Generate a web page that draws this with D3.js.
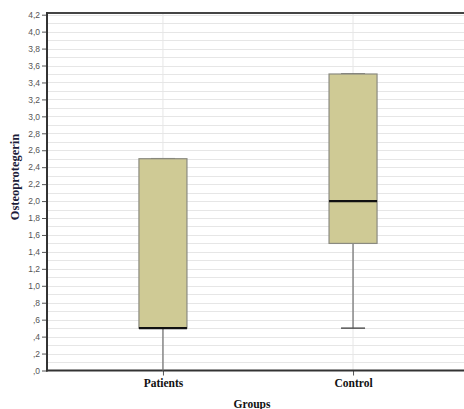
<!DOCTYPE html>
<html><head><meta charset="utf-8">
<script src="https://cdn.jsdelivr.net/npm/d3@7"></script>
<style>body{margin:0;background:#fff}svg{display:block}</style>
</head><body>
<svg id="c" width="464" height="409"></svg>
<script>
const categories = ["Patients", "Control"];
const whiskerLow = [0.0, 0.5];
const q1 = [0.5, 1.5];
const median = [0.5, 2.0];
const q3 = [2.5, 3.5];
const whiskerHigh = [2.5, 3.5];
const yTicks = [0,0.2,0.4,0.6,0.8,1.0,1.2,1.4,1.6,1.8,2.0,2.2,2.4,2.6,2.8,3.0,3.2,3.4,3.6,3.8,4.0,4.2];
const yTitle = "Osteoprotegerin";
const xTitle = "Groups";

(function () {
const svg = d3.select("#c");
const pL = 47, pR = 469, pT = 13, pB = 370.5;
const y = d3.scaleLinear().domain([0, 4.22]).range([pB, pT]);
const x = d3.scalePoint().domain(categories).range([pL, pR]).padding(0.61);
const boxW = 48;

const grid = d3.range(1, 43).map(i => i / 10);
svg.append("g").selectAll("line").data(grid).join("line")
  .attr("x1", pL).attr("x2", pR)
  .attr("y1", d => Math.round(y(d)) + 0.5).attr("y2", d => Math.round(y(d)) + 0.5)
  .attr("stroke", "#e6e6e6").attr("stroke-width", 1.2);
svg.append("g").selectAll("line").data(categories).join("line")
  .attr("x1", d => x(d)).attr("x2", d => x(d))
  .attr("y1", pT).attr("y2", pB)
  .attr("stroke", "#e6e6e6").attr("stroke-width", 1);

svg.append("line").attr("x1", pL).attr("x2", pR).attr("y1", pT).attr("y2", pT)
  .attr("stroke", "#444").attr("stroke-width", 2);

const fmt = v => { let s = d3.format(".1f")(v).replace(".", ","); if (s.startsWith("0,")) s = s.slice(1); return s; };
const yAxis = svg.append("g").attr("transform", `translate(${pL},0)`)
  .call(d3.axisLeft(y).tickValues(yTicks).tickFormat(fmt).tickSize(5).tickPadding(2));
yAxis.select(".domain").remove();
yAxis.selectAll(".tick line").attr("stroke", "#555");
yAxis.selectAll(".tick text").attr("fill", "#555").style("font-family", "Arial, 'Liberation Sans', sans-serif").style("font-size", "8.5px");
svg.append("line").attr("x1", pL).attr("x2", pL).attr("y1", pT - 1).attr("y2", pB + 1)
  .attr("stroke", "#333").attr("stroke-width", 2);

const xAxis = svg.append("g").attr("transform", `translate(0,${pB})`)
  .call(d3.axisBottom(x).tickSize(5).tickPadding(3));
xAxis.select(".domain").remove();
xAxis.selectAll(".tick line").attr("stroke", "#555");
xAxis.selectAll(".tick text").attr("fill", "#111")
  .style("font-family", "'Liberation Serif', 'Times New Roman', serif")
  .style("font-size", "11.5px").style("font-weight", "bold");
svg.append("line").attr("x1", pL - 1).attr("x2", pR).attr("y1", pB).attr("y2", pB)
  .attr("stroke", "#333").attr("stroke-width", 2);

const g = svg.append("g");
categories.forEach((c, i) => {
  const cx = x(c);
  g.append("line").attr("x1", cx).attr("x2", cx).attr("y1", y(whiskerLow[i])).attr("y2", y(q1[i]))
    .attr("stroke", "#777").attr("stroke-width", 1.3);
  g.append("line").attr("x1", cx).attr("x2", cx).attr("y1", y(q3[i])).attr("y2", y(whiskerHigh[i]))
    .attr("stroke", "#777").attr("stroke-width", 1.3);
  if (whiskerLow[i] > 0) {
    g.append("line").attr("x1", cx - 12).attr("x2", cx + 12).attr("y1", y(whiskerLow[i])).attr("y2", y(whiskerLow[i]))
      .attr("stroke", "#555").attr("stroke-width", 1.5);
  }
  g.append("line").attr("x1", cx - 12).attr("x2", cx + 12).attr("y1", y(whiskerHigh[i])).attr("y2", y(whiskerHigh[i]))
    .attr("stroke", "#555").attr("stroke-width", 1.5);
  g.append("rect").attr("x", cx - boxW / 2).attr("width", boxW)
    .attr("y", y(q3[i])).attr("height", y(q1[i]) - y(q3[i]))
    .attr("fill", "#cfca95").attr("stroke", "#8a8a80").attr("stroke-width", 1.2);
  g.append("line").attr("x1", cx - boxW / 2).attr("x2", cx + boxW / 2).attr("y1", y(median[i])).attr("y2", y(median[i]))
    .attr("stroke", "#111").attr("stroke-width", 2.2);
});

svg.append("text").attr("transform", `translate(19,177) rotate(-90)`)
  .attr("text-anchor", "middle").attr("fill", "#1c1c3a")
  .style("font-family", "'Liberation Serif', 'Times New Roman', serif")
  .style("font-size", "12.5px").style("font-weight", "bold").text(yTitle);
svg.append("text").attr("x", 252).attr("y", 408).attr("text-anchor", "middle").attr("fill", "#111")
  .style("font-family", "'Liberation Serif', 'Times New Roman', serif")
  .style("font-size", "11.5px").style("font-weight", "bold").text(xTitle);
})();
</script>
</body></html>
